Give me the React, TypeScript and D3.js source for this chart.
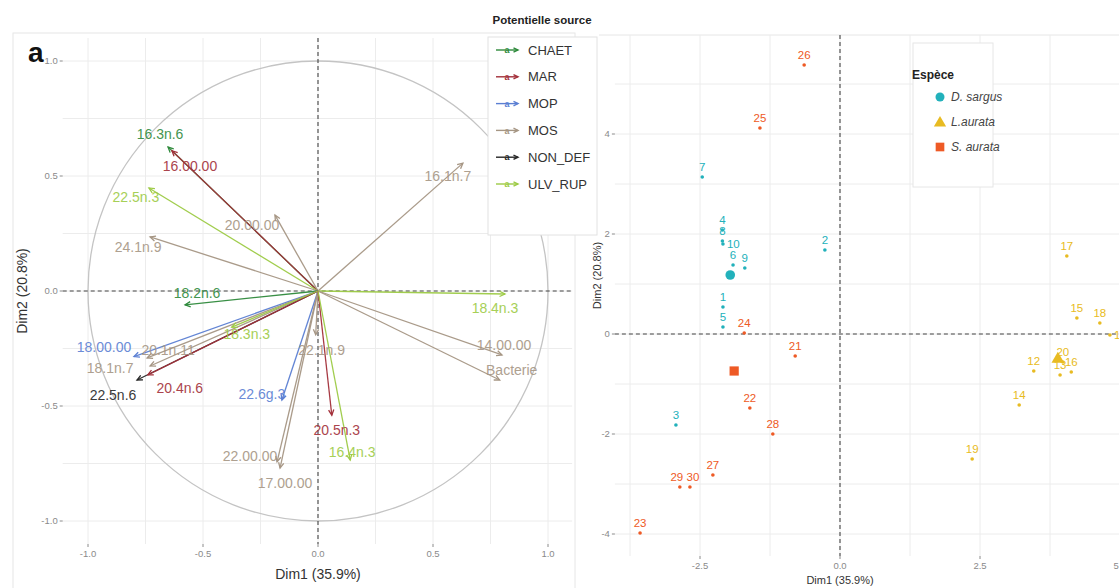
import React from "react";
import * as d3 from "d3";

// ---------- Left panel: variable correlation circle ----------
const groups = ["CHAET", "MAR", "MOP", "MOS", "NON_DEF", "ULV_RUP"];
const groupColors = ["#2f8a3c", "#a3303a", "#5b7fd3", "#a69684", "#262626", "#9dcb45"];

const varNames = [
  "16.3n.6", "16.00.00", "22.5n.3", "24.1n.9", "20.00.00", "16.1n.7",
  "18.2n.6", "18.4n.3", "14.00.00", "Bacterie", "18.00.00", "20.1n.11",
  "18.1n.7", "22.5n.6", "20.4n.6", "18.3n.3", "22.6g.3", "22.00.00",
  "17.00.00", "22.1n.9", "20.5n.3", "16.4n.3",
];
const varGroups = [
  "CHAET", "MAR", "ULV_RUP", "MOS", "MOS", "MOS",
  "CHAET", "ULV_RUP", "MOS", "MOS", "MOP", "MOS",
  "MOS", "NON_DEF", "MAR", "ULV_RUP", "MOP", "MOS",
  "MOS", "MOS", "MAR", "ULV_RUP",
];
const varDim1 = [
  -0.652, -0.635, -0.735, -0.73, -0.187, 0.63,
  -0.578, 0.813, 0.8, 0.79, -0.8, -0.743,
  -0.73, -0.787, -0.74, -0.375, -0.157, -0.178,
  -0.165, -0.01, 0.06, 0.14,
];
const varDim2 = [
  0.626, 0.61, 0.448, 0.235, 0.33, 0.556,
  -0.06, -0.013, -0.278, -0.387, -0.285, -0.291,
  -0.326, -0.387, -0.365, -0.157, -0.474, -0.743,
  -0.77, -0.19, -0.54, -0.735,
];
// label placement relative to arrow tip (px)
const varLabelDx = [-8, 18, -13, -12, -23, -15, 12, -10, 2, 12, -30, 21, -40, -24, 32, 15, -20, -27, 5, 6, 5, 2];
const varLabelDy = [-13, 15, 9, 10, 10, 13, -12, 14, -10, -10, -9, -8, 2, 15, 13, 7, -6, -6, 15, 15, 15, -8];

const leftTicks = [-1, -0.5, 0, 0.5, 1];

// ---------- Right panel: individuals ----------
const species = ["D. sargus", "L.aurata", "S. aurata"];
const speciesColors = ["#22b1bb", "#e8bb22", "#ee5a25"];

const indNames = [
  "1", "2", "3", "4", "5", "6", "7", "8", "9", "10",
  "11", "12", "13", "14", "15", "16", "17", "18", "19", "20",
  "21", "22", "23", "24", "25", "26", "27", "28", "29", "30",
];
const indSpecies = [
  0, 0, 0, 0, 0, 0, 0, 0, 0, 0,
  1, 1, 1, 1, 1, 1, 1, 1, 1, 1,
  2, 2, 2, 2, 2, 2, 2, 2, 2, 2,
];
const indDim1 = [
  -2.09, -0.27, -2.93, -2.1, -2.09, -1.91, -2.46, -2.1, -1.7, -2.09,
  4.82, 3.46, 3.93, 3.2, 4.23, 4.13, 4.05, 4.64, 2.36, 3.98,
  -0.8, -1.61, -3.57, -1.71, -1.43, -0.64, -2.27, -1.2, -2.86, -2.68,
];
const indDim2 = [
  0.54, 1.68, -1.82, 2.08, 0.14, 1.38, 3.14, 1.86, 1.32, 1.8,
  -0.02, -0.74, -0.82, -1.42, 0.32, -0.76, 1.56, 0.22, -2.5, -0.56,
  -0.44, -1.48, -3.98, 0.02, 4.12, 5.38, -2.82, -2.0, -3.06, -3.06,
];
const centroidDim1 = [-1.96, 3.89, -1.89];
const centroidDim2 = [1.18, -0.5, -0.74];

const rightXTicks = [-2.5, 0, 2.5, 5];
const rightYTicks = [-4, -2, 0, 2, 4];

const FONT = "'Liberation Sans', Arial, Helvetica, sans-serif";

function arrowHead(x1: number, y1: number, x2: number, y2: number, len = 6) {
  const a = Math.atan2(y2 - y1, x2 - x1);
  const p1 = [x2 - len * Math.cos(a - 0.45), y2 - len * Math.sin(a - 0.45)];
  const p2 = [x2 - len * Math.cos(a + 0.45), y2 - len * Math.sin(a + 0.45)];
  return `M${p1[0]},${p1[1]}L${x2},${y2}L${p2[0]},${p2[1]}`;
}

// small horizontal label nudges for crowded individual labels (px)
const indLabelNudge: Record<string, number> = { "29": -3, "30": 3 };

export default function App() {
  const W = 1119, H = 588;
  const colorOf = d3.scaleOrdinal<string, string>().domain(groups).range(groupColors);
  const fmt1 = (v: number) => d3.format(".1f")(v).replace("\u2212", "-");

  // left scales
  const xL = d3.scaleLinear().domain([-1, 1]).range([88, 548]);
  const yL = d3.scaleLinear().domain([-1, 1]).range([521, 61]);
  const lx0 = xL(-1.11), lx1 = xL(1.105), ly0 = yL(1.1), ly1 = yL(-1.1);
  const leftGrid = d3.range(-1, 1.001, 0.25);

  // right scales
  const xR = d3.scaleLinear().domain([-2.5, 2.5]).range([700, 980]);
  const yR = d3.scaleLinear().domain([-4, 4]).range([534, 134]);
  const rx0 = xR(-4.02), rx1 = W + 30, ry0 = yR(5.98), ry1 = yR(-4.44);
  const rightGridX = d3.range(-3.75, 5.01, 1.25);
  const rightGridY = d3.range(-4, 5.01, 1);

  const ox = xL(0), oy = yL(0);
  const R = xL(1) - xL(0);

  const gridColor = "#ececec";
  const tickColor = "#8a8a8a";

  const triangle = d3.symbol().type(d3.symbolTriangle).size(70)();
  const square = d3.symbol().type(d3.symbolSquare).size(85)();
  const triSmall = d3.symbol().type(d3.symbolTriangle).size(65)();
  const sqSmall = d3.symbol().type(d3.symbolSquare).size(75)();

  return (
    <div style={{ position: "absolute", left: 0, top: 0, width: W, height: H, background: "#fff" }}>
      <svg width={W} height={H} style={{ display: "block", fontFamily: FONT }}>
        <rect x={0} y={0} width={W} height={H} fill="#fff" />

        {/* ===== LEFT PANEL ===== */}
        <rect x={13} y={33} width={562} height={560} fill="none" stroke="#e6e6e6" strokeWidth={1} />
        <clipPath id="clipL">
          <rect x={lx0} y={ly0} width={lx1 - lx0} height={ly1 - ly0} />
        </clipPath>
        {leftGrid.map((v, i) => (
          <g key={"lg" + i}>
            <line x1={xL(v)} x2={xL(v)} y1={ly0} y2={ly1} stroke={gridColor} strokeWidth={1} />
            <line x1={lx0} x2={lx1} y1={yL(v)} y2={yL(v)} stroke={gridColor} strokeWidth={1} />
          </g>
        ))}
        <circle cx={ox} cy={oy} r={R} fill="none" stroke="#c4c4c4" strokeWidth={1.3} />
        <line x1={lx0} x2={lx1} y1={oy} y2={oy} stroke="#444" strokeWidth={1.1} strokeDasharray="4,3" />
        <line x1={ox} x2={ox} y1={ly0} y2={ly1} stroke="#444" strokeWidth={1.1} strokeDasharray="4,3" />

        <g clipPath="url(#clipL)">
          {varNames.map((n, i) => {
            const tx = xL(varDim1[i]), ty = yL(varDim2[i]);
            const c = colorOf(varGroups[i]);
            return (
              <g key={"ar" + i}>
                <line x1={ox} y1={oy} x2={tx} y2={ty} stroke={c} strokeWidth={1.3} opacity={0.95} />
                <path d={arrowHead(ox, oy, tx, ty)} fill="none" stroke={c} strokeWidth={1.3} />
              </g>
            );
          })}
          {varNames.map((n, i) => {
            const tx = xL(varDim1[i]), ty = yL(varDim2[i]);
            const c = colorOf(varGroups[i]);
            return (
              <text key={"al" + i} x={tx + varLabelDx[i]} y={ty + varLabelDy[i]} dy="0.35em"
                textAnchor="middle" fontSize={14} fill={c} opacity={0.9}>
                {n}
              </text>
            );
          })}
        </g>

        {/* left axes */}
        {leftTicks.map((v, i) => (
          <g key={"lt" + i}>
            <line x1={xL(v)} x2={xL(v)} y1={ly1} y2={ly1 + 3} stroke={tickColor} />
            <text x={xL(v)} y={ly1 + 13} textAnchor="middle" fontSize={9.5} fill={tickColor}>{fmt1(v)}</text>
            <line x1={lx0 - 3} x2={lx0} y1={yL(v)} y2={yL(v)} stroke={tickColor} />
            <text x={lx0 - 5} y={yL(v)} dy="0.35em" textAnchor="end" fontSize={9.5} fill={tickColor}>{fmt1(v)}</text>
          </g>
        ))}
        <text x={ox} y={579} textAnchor="middle" fontSize={14} fill="#333">Dim1 (35.9%)</text>
        <text transform={`translate(27,${oy}) rotate(-90)`} textAnchor="middle" fontSize={14} fill="#333">Dim2 (20.8%)</text>
        <text x={28} y={62} fontSize={28} fontWeight="bold" fill="#111">a</text>

        {/* ===== RIGHT PANEL ===== */}
        <line x1={599} x2={W} y1={35} y2={35} stroke="#e6e6e6" />
        <clipPath id="clipR">
          <rect x={rx0} y={ry0} width={rx1 - rx0} height={ry1 - ry0} />
        </clipPath>
        {rightGridX.map((v, i) => (
          <line key={"rgx" + i} x1={xR(v)} x2={xR(v)} y1={ry0} y2={ry1} stroke={gridColor} />
        ))}
        {rightGridY.map((v, i) => (
          <line key={"rgy" + i} x1={rx0} x2={rx1} y1={yR(v)} y2={yR(v)} stroke={gridColor} />
        ))}
        <line x1={rx0} x2={rx1} y1={yR(0)} y2={yR(0)} stroke="#444" strokeWidth={1.1} strokeDasharray="4,3" />
        <line x1={xR(0)} x2={xR(0)} y1={ry0} y2={ry1} stroke="#444" strokeWidth={1.1} strokeDasharray="4,3" />

        <g clipPath="url(#clipR)">
          {indNames.map((n, i) => {
            const px = xR(indDim1[i]), py = yR(indDim2[i]);
            const c = speciesColors[indSpecies[i]];
            const right = n === "10" || n === "11";
            const nx = indLabelNudge[n] || 0;
            return (
              <g key={"pt" + i}>
                <circle cx={px} cy={py} r={1.8} fill={c} />
                <text x={right ? px + 4 : px + nx} y={right ? py : py - 10} dy="0.35em"
                  textAnchor={right ? "start" : "middle"} fontSize={11.5} fill={c}>
                  {n}
                </text>
              </g>
            );
          })}
          {/* centroids */}
          <circle cx={xR(centroidDim1[0])} cy={yR(centroidDim2[0])} r={4.8} fill={speciesColors[0]} />
          <path transform={`translate(${xR(centroidDim1[1])},${yR(centroidDim2[1])})`} d={triangle || ""} fill={speciesColors[1]} />
          <path transform={`translate(${xR(centroidDim1[2])},${yR(centroidDim2[2])})`} d={square || ""} fill={speciesColors[2]} />
        </g>

        {/* right axes */}
        {rightXTicks.map((v, i) => (
          <g key={"rxt" + i}>
            <line x1={xR(v)} x2={xR(v)} y1={ry1} y2={ry1 + 3} stroke={tickColor} />
            <text x={xR(v)} y={ry1 + 13} textAnchor="middle" fontSize={9.5} fill={tickColor}>{fmt1(v)}</text>
          </g>
        ))}
        {rightYTicks.map((v, i) => (
          <g key={"ryt" + i}>
            <line x1={rx0 - 3} x2={rx0} y1={yR(v)} y2={yR(v)} stroke={tickColor} />
            <text x={rx0 - 5} y={yR(v)} dy="0.35em" textAnchor="end" fontSize={9.5} fill={tickColor}>{d3.format("d")(v).replace("\u2212", "-")}</text>
          </g>
        ))}
        <text x={xR(0)} y={584} textAnchor="middle" fontSize={11} fill="#333">Dim1 (35.9%)</text>
        <text transform={`translate(601,${(ry0 + ry1) / 2 - 20}) rotate(-90)`} textAnchor="middle" fontSize={11} fill="#333">Dim2 (20.8%)</text>

        {/* ===== LEGEND: Potentielle source ===== */}
        <text x={542} y={24} textAnchor="middle" fontSize={11.5} fontWeight="bold" fill="#222">Potentielle source</text>
        <rect x={488} y={37} width={109} height={198} fill="#fff" stroke="#e2e2e2" />
        {groups.map((g, i) => {
          const yy = 50 + i * 26.8;
          const c = groupColors[i];
          return (
            <g key={"lg1" + i}>
              <line x1={496} x2={518} y1={yy} y2={yy} stroke={c} strokeWidth={1.4} />
              <path d={arrowHead(496, yy, 518, yy, 5)} fill="none" stroke={c} strokeWidth={1.4} />
              <text x={507} y={yy} dy="0.35em" textAnchor="middle" fontSize={9} fontWeight="bold" fill={c}>a</text>
              <text x={528} y={yy} dy="0.35em" fontSize={13} fill="#333">{g}</text>
            </g>
          );
        })}

        {/* ===== LEGEND: Espèce ===== */}
        <rect x={913} y={43} width={80} height={144} fill="#fff" stroke="#e6e6e6" />
        <text x={912} y={75} dy="0.35em" fontSize={12} fontWeight="bold" fill="#222">Espèce</text>
        {species.map((s, i) => {
          const yy = 97 + i * 25;
          const c = speciesColors[i];
          return (
            <g key={"lg2" + i}>
              {i === 0 && <circle cx={940} cy={yy} r={4.5} fill={c} />}
              {i === 1 && <path transform={`translate(940,${yy + 1})`} d={triSmall || ""} fill={c} />}
              {i === 2 && <path transform={`translate(940,${yy})`} d={sqSmall || ""} fill={c} />}
              <text x={951} y={yy} dy="0.35em" fontSize={12} fontStyle="italic" fill="#444">{s}</text>
            </g>
          );
        })}
      </svg>
    </div>
  );
}
